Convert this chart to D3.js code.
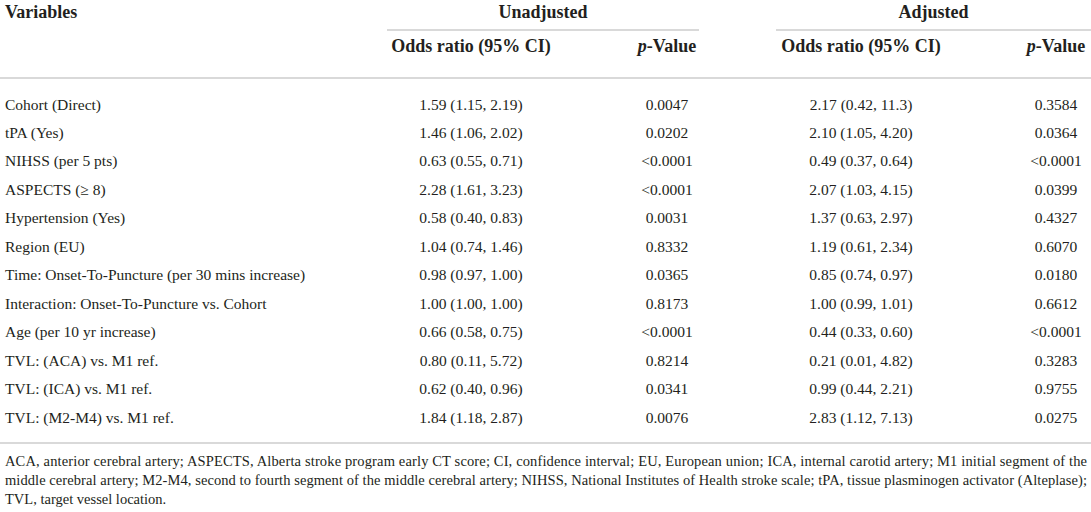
<!DOCTYPE html>
<html>
<head>
<meta charset="utf-8">
<script src="https://cdn.jsdelivr.net/npm/d3@7"></script>
<style>
  html, body { margin: 0; padding: 0; background: #fff; }
  svg { display: block; font-family: 'Liberation Serif', 'Times New Roman', serif; }
</style>
</head>
<body>
<svg id="table"></svg>
<script>
// table contents
const variables = [
    'Cohort (Direct)',
    'tPA (Yes)',
    'NIHSS (per 5 pts)',
    'ASPECTS (\u2265 8)',
    'Hypertension (Yes)',
    'Region (EU)',
    'Time: Onset-To-Puncture (per 30 mins increase)',
    'Interaction: Onset-To-Puncture vs. Cohort',
    'Age (per 10 yr increase)',
    'TVL: (ACA) vs. M1 ref.',
    'TVL: (ICA) vs. M1 ref.',
    'TVL: (M2-M4) vs. M1 ref.'
]
const unadjustedOR = ['1.59 (1.15, 2.19)', '1.46 (1.06, 2.02)', '0.63 (0.55, 0.71)', '2.28 (1.61, 3.23)',
    '0.58 (0.40, 0.83)', '1.04 (0.74, 1.46)', '0.98 (0.97, 1.00)', '1.00 (1.00, 1.00)',
    '0.66 (0.58, 0.75)', '0.80 (0.11, 5.72)', '0.62 (0.40, 0.96)', '1.84 (1.18, 2.87)']
const unadjustedP = ['0.0047', '0.0202', '<0.0001', '<0.0001', '0.0031', '0.8332',
    '0.0365', '0.8173', '<0.0001', '0.8214', '0.0341', '0.0076']
const adjustedOR = ['2.17 (0.42, 11.3)', '2.10 (1.05, 4.20)', '0.49 (0.37, 0.64)', '2.07 (1.03, 4.15)',
    '1.37 (0.63, 2.97)', '1.19 (0.61, 2.34)', '0.85 (0.74, 0.97)', '1.00 (0.99, 1.01)',
    '0.44 (0.33, 0.60)', '0.21 (0.01, 4.82)', '0.99 (0.44, 2.21)', '2.83 (1.12, 7.13)']
const adjustedP = ['0.3584', '0.0364', '<0.0001', '0.0399', '0.4327', '0.6070',
    '0.0180', '0.6612', '<0.0001', '0.3283', '0.9755', '0.0275']

const groupHeaders = ['Unadjusted', 'Adjusted']
const subHeaders = ['Odds ratio (95% CI)', 'p-Value', 'Odds ratio (95% CI)', 'p-Value']
const firstHeader = 'Variables'

const footnote = [
    'ACA, anterior cerebral artery; ASPECTS, Alberta stroke program early CT score; CI, confidence interval; EU, European union; ICA, internal carotid artery; M1 initial segment of the',
    'middle cerebral artery; M2-M4, second to fourth segment of the middle cerebral artery; NIHSS, National Institutes of Health stroke scale; tPA, tissue plasminogen activator (Alteplase);',
    'TVL, target vessel location.'
]

const width = 1091
const height = 512
const ink = '#231f20'
const rule = '#cccccc'

let svg = d3.select('#table')
    .attr('width', width)
    .attr('height', height)

// column centres of the four value columns
let colX = d3.scaleOrdinal()
    .domain(['uOR', 'uP', 'aOR', 'aP'])
    .range([471, 667, 861, 1056])

// spans of the two group headers
let spans = [
    {name: groupHeaders[0], x0: 387, x1: 699},
    {name: groupHeaders[1], x0: 776, x1: 1091}
]

let rowY = d3.scalePoint()
    .domain(variables)
    .range([106, 419])

// header
svg.append('text')
    .text(firstHeader)
    .attr('x', 5)
    .attr('y', 14)
    .attr('dominant-baseline', 'middle')
    .attr('font-size', 18)
    .attr('font-weight', 'bold')
    .attr('fill', ink)

svg.selectAll('text.group')
    .data(spans)
    .enter()
    .append('text')
    .attr('class', 'group')
    .attr('x', (d) => (d.x0 + d.x1) / 2)
    .attr('y', 14)
    .attr('text-anchor', 'middle')
    .attr('dominant-baseline', 'middle')
    .attr('font-size', 18)
    .attr('font-weight', 'bold')
    .attr('fill', ink)
    .text((d) => d.name)

svg.selectAll('line.group')
    .data(spans)
    .enter()
    .append('line')
    .attr('class', 'group')
    .attr('x1', (d) => d.x0)
    .attr('x2', (d) => d.x1)
    .attr('y1', 30)
    .attr('y2', 30)
    .attr('stroke', rule)
    .attr('stroke-width', 1.5)

let sub = svg.selectAll('text.sub')
    .data(subHeaders)
    .enter()
    .append('text')
    .attr('class', 'sub')
    .attr('x', (d, i) => colX.range()[i])
    .attr('y', 48)
    .attr('text-anchor', 'middle')
    .attr('dominant-baseline', 'middle')
    .attr('font-size', 18)
    .attr('font-weight', 'bold')
    .attr('fill', ink)

sub.each(function (d) {
    let t = d3.select(this)
    if (d.startsWith('p-')) {
        t.append('tspan').attr('font-style', 'italic').text('p')
        t.append('tspan').text(d.slice(1))
    } else {
        t.text(d)
    }
})

svg.append('line')
    .attr('x1', 0).attr('x2', width)
    .attr('y1', 78).attr('y2', 78)
    .attr('stroke', rule)
    .attr('stroke-width', 1.5)

// body rows
let rows = variables.map((v, i) => ({
    name: v,
    uOR: unadjustedOR[i],
    uP: unadjustedP[i],
    aOR: adjustedOR[i],
    aP: adjustedP[i]
}))

let row = svg.selectAll('g.row')
    .data(rows)
    .enter()
    .append('g')
    .attr('class', 'row')
    .attr('transform', (d) => `translate(0,${rowY(d.name)})`)
    .attr('font-size', 15.5)
    .attr('fill', ink)

row.append('text')
    .attr('x', 5)
    .attr('dominant-baseline', 'middle')
    .text((d) => d.name)

colX.domain().forEach((key) => {
    row.append('text')
    .attr('x', colX(key))
    .attr('text-anchor', 'middle')
    .attr('dominant-baseline', 'middle')
    .text((d) => d[key])
})

svg.append('line')
    .attr('x1', 0).attr('x2', width)
    .attr('y1', 443).attr('y2', 443)
    .attr('stroke', rule)
    .attr('stroke-width', 1.5)

// footnote, first two lines justified
svg.selectAll('text.note')
    .data(footnote)
    .enter()
    .append('text')
    .attr('class', 'note')
    .attr('x', 5)
    .attr('y', (d, i) => 463 + i * 19)
    .attr('dominant-baseline', 'middle')
    .attr('font-size', 14.5)
    .attr('fill', ink)
    .attr('textLength', (d, i) => i < footnote.length - 1 ? 1082 : null)
    .attr('lengthAdjust', 'spacing')
    .text((d) => d)
</script>
</body>
</html>
